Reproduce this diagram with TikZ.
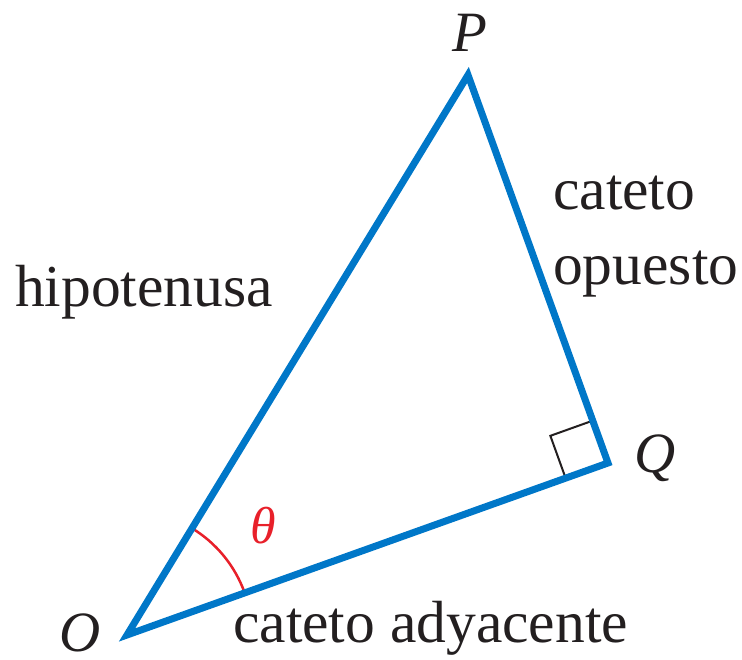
\documentclass[tikz,border=0pt]{standalone}
\usepackage{fontspec}
\setmainfont{Liberation Serif}
\usetikzlibrary{calc}
\definecolor{triblue}{HTML}{0077C8}
\definecolor{angred}{HTML}{E8202A}
\definecolor{ink}{HTML}{231F20}
\tikzset{
  side/.style={draw=triblue, line width=7pt, line join=miter},
  lbl/.style={inner sep=0pt, text=ink, font=\fontsize{59.5}{62}\selectfont},
  vlbl/.style={lbl, font=\fontsize{57}{60}\selectfont\itshape},
}
\begin{document}
\begin{tikzpicture}[x=1pt,y=1pt]
\useasboundingbox (0,0) rectangle (742,660);
\coordinate (O) at (127,25);
\coordinate (P) at (468,585);
\coordinate (Q) at (608,197);
% right angle marker
\coordinate (ra) at ($(Q)!45pt!(P)$);
\coordinate (rb) at ($(Q)!45pt!(O)$);
\coordinate (rc) at ($(ra)+(rb)-(Q)$);
\draw[ink, line width=2pt] (ra) -- (rc) -- (rb);
% angle arc
\coordinate (arcstart) at ($(O)!125pt!(P)$);
\draw[angred, line width=2.5pt] (arcstart) arc[start angle=58.66, end angle=19.68, radius=125pt];
% triangle
\draw[side] (O) -- (P) -- (Q) -- cycle;
% labels
\node[vlbl, anchor=base] (lP) at (470,608) {P};
\node[vlbl, anchor=base] (lQ) at (655,187) {Q};
\node[vlbl, anchor=base] (lO) at (80,8) {O};
\node[vlbl, text=angred, font=\fontsize{52}{56}\selectfont\itshape] (lth) at (263,134) {θ};
\node[lbl, anchor=base west] (co1) at (553,450) {cateto};
\node[lbl, anchor=base west] (co2) at (553,375) {opuesto};
\node[lbl, anchor=base west] (hip) at (15,353) {hipotenusa};
\node[lbl, anchor=base west] (ca) at (233,17) {cateto adyacente};
\end{tikzpicture}
\end{document}
